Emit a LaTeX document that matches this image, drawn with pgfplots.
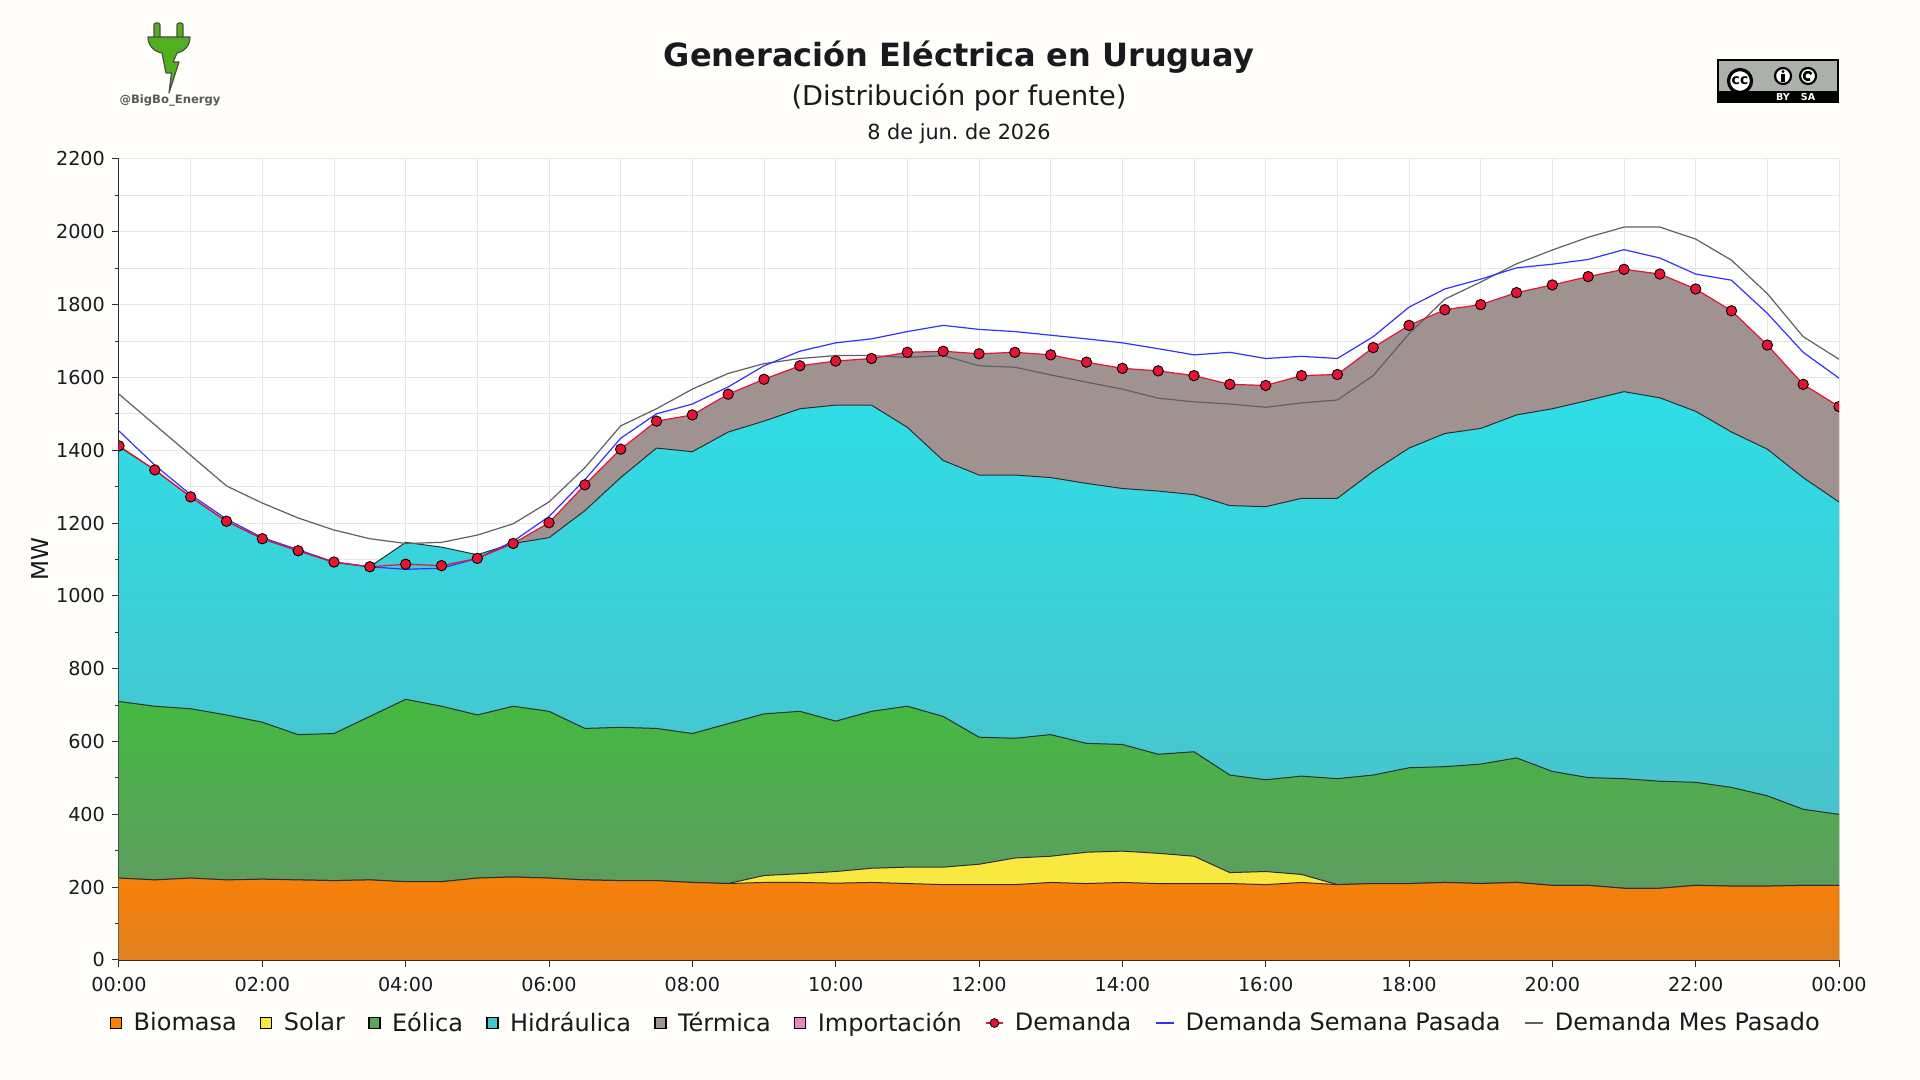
\documentclass[border=0pt]{standalone}
\usepackage{fontspec}
\setmainfont{DejaVu Sans}
\usepackage{pgfplots}
\pgfplotsset{compat=1.18}
\usepackage{pgfplotstable}
\frenchspacing

\definecolor{bg}{RGB}{255,254,250}
\definecolor{gridc}{RGB}{232,230,224}
\definecolor{txt}{RGB}{25,25,30}
\definecolor{termc}{RGB}{161,146,146}
\definecolor{hidtop}{RGB}{47,221,230}
\definecolor{hidbot}{RGB}{81,186,194}
\definecolor{eoltop}{RGB}{68,185,64}
\definecolor{eolbot}{RGB}{104,145,108}
\definecolor{solc}{RGB}{248,232,64}
\definecolor{biotop}{RGB}{248,128,8}
\definecolor{biobot}{RGB}{224,128,32}
\definecolor{impc}{RGB}{240,128,192}
\definecolor{demc}{RGB}{230,20,50}
\definecolor{semc}{RGB}{50,50,255}
\definecolor{mesc}{RGB}{95,95,105}
\definecolor{edge}{RGB}{45,45,50}
\definecolor{plugg}{RGB}{82,176,30}
\definecolor{ccgray}{RGB}{171,177,170}

\pgfplotstableread{
t bio bs eol hid dem sem mes
0.0 225 225 710 1410 1412 1453 1554
0.5 220 220 697 1346 1346 1359 1470
1.0 225 225 690 1272 1272 1278 1386
1.5 220 220 673 1205 1205 1211 1302
2.0 222 222 653 1157 1157 1160 1255
2.5 220 220 619 1124 1124 1127 1214
3.0 218 218 622 1092 1093 1093 1181
3.5 220 220 669 1080 1080 1080 1157
4.0 215 215 716 1147 1087 1073 1144
4.5 215 215 697 1134 1083 1076 1147
5.0 225 225 673 1113 1103 1103 1167
5.5 228 228 697 1144 1144 1150 1198
6.0 225 225 683 1160 1201 1218 1258
6.5 220 220 636 1234 1305 1319 1352
7.0 218 218 639 1325 1403 1433 1467
7.5 218 218 636 1406 1480 1500 1514
8.0 213 213 622 1396 1497 1527 1568
8.5 210 210 649 1450 1554 1574 1611
9.0 213 232 676 1480 1595 1632 1638
9.5 213 237 683 1514 1632 1672 1652
10.0 211 243 656 1524 1645 1695 1660
10.5 213 252 683 1524 1652 1706 1660
11.0 210 255 697 1463 1669 1726 1655
11.5 207 255 669 1372 1672 1743 1660
12.0 207 263 612 1332 1665 1732 1632
12.5 207 280 609 1332 1669 1726 1628
13.0 213 285 619 1325 1662 1716 1607
13.5 210 296 595 1309 1642 1706 1587
14.0 213 299 592 1295 1625 1695 1568
14.5 210 293 565 1288 1618 1679 1543
15.0 210 285 572 1278 1605 1662 1533
15.5 210 240 508 1248 1581 1669 1527
16.0 207 243 495 1245 1578 1652 1518
16.5 213 235 505 1268 1605 1658 1530
17.0 207 207 498 1268 1608 1652 1538
17.5 210 210 508 1342 1682 1712 1605
18.0 210 210 528 1406 1743 1793 1720
18.5 213 213 531 1446 1786 1843 1815
19.0 210 210 538 1460 1800 1870 1862
19.5 213 213 555 1497 1833 1901 1912
20.0 205 205 518 1514 1854 1911 1950
20.5 205 205 501 1537 1877 1924 1985
21.0 197 197 498 1561 1897 1951 2013
21.5 197 197 491 1544 1884 1928 2013
22.0 205 205 488 1507 1843 1884 1980
22.5 203 203 474 1450 1783 1867 1922
23.0 203 203 451 1403 1689 1776 1830
23.5 205 205 414 1325 1581 1669 1712
24.0 205 205 400 1258 1520 1598 1650
}\data

\begin{document}
\begin{tikzpicture}
\useasboundingbox (-59.5pt,-60pt) rectangle (900.5pt,480pt);
\fill[bg] (-59.5pt,-60pt) rectangle (900.5pt,480pt);
\begin{axis}[
  at={(0pt,0pt)}, anchor=south west,
  scale only axis, width=860pt, height=400.5pt,
  xmin=0, xmax=24, ymin=0, ymax=2200,
  axis x line*=bottom, axis y line*=left,
  x axis line style={line width=1pt, color=edge},
  y axis line style={line width=0.5pt, color=edge},
  axis background/.style={fill=white},
  xtick={0,2,...,24},
  xticklabels={00:00,02:00,04:00,06:00,08:00,10:00,12:00,14:00,16:00,18:00,20:00,22:00,00:00},
  minor x tick num=1,
  ytick={0,200,...,2200},
  minor y tick num=1,
  grid=both,
  major grid style={color=gridc, line width=0.5pt},
  minor grid style={color=gridc, line width=0.5pt},
  tick align=outside,
  major tick length=3.5pt, minor tick length=2pt,
  tick style={color=edge, line width=0.5pt},
  minor x tick style={draw=none},
  /pgf/number format/1000 sep={},
  /pgf/number format/assume math mode=true,
  scaled y ticks=false,
  tick label style={font=\fontsize{9.6}{11}\selectfont, color=txt},
  xticklabel style={yshift=-1.8pt},
  ylabel={MW},
  ylabel style={at={(axis description cs:-0.046,0.5)}, anchor=center, font=\fontsize{11.6}{13}\selectfont, color=txt},
  legend style={at={(0.493,-0.0787)}, anchor=center, draw=none, fill=none,
    font=\fontsize{12}{14}\selectfont, text=txt,
    /tikz/every odd column/.append style={column sep=3.7pt},
    /tikz/every even column/.append style={column sep=9.7pt},
    nodes={inner sep=2pt}},
  legend columns=-1,
  legend cell align=left,
  clip=true,
]
% legend entries (order as in reference)
\addlegendimage{legend image code/.code={\draw[fill=biotop,draw=black,line width=0.6pt] (0pt,-2.75pt) rectangle (5.5pt,2.75pt);}}
\addlegendentry{Biomasa}
\addlegendimage{legend image code/.code={\draw[fill=solc,draw=black,line width=0.6pt] (0pt,-2.75pt) rectangle (5.5pt,2.75pt);}}
\addlegendentry{Solar}
\addlegendimage{legend image code/.code={\draw[fill=eoltop!60!eolbot,draw=black,line width=0.6pt] (0pt,-2.75pt) rectangle (5.5pt,2.75pt);}}
\addlegendentry{Eólica}
\addlegendimage{legend image code/.code={\draw[fill=hidtop!40!hidbot,draw=black,line width=0.6pt] (0pt,-2.75pt) rectangle (5.5pt,2.75pt);}}
\addlegendentry{Hidráulica}
\addlegendimage{legend image code/.code={\draw[fill=termc,draw=black,line width=0.6pt] (0pt,-2.75pt) rectangle (5.5pt,2.75pt);}}
\addlegendentry{Térmica}
\addlegendimage{legend image code/.code={\draw[fill=impc,draw=black,line width=0.6pt] (0pt,-2.75pt) rectangle (5.5pt,2.75pt);}}
\addlegendentry{Importación}
\addlegendimage{legend image code/.code={\draw[demc,line width=0.6pt] (0pt,0pt) -- (8.5pt,0pt); \filldraw[fill=demc,draw=black,line width=0.4pt] (4.25pt,0pt) circle (2.2pt);}}
\addlegendentry{Demanda}
\addlegendimage{legend image code/.code={\draw[semc,line width=0.7pt] (0pt,0pt) -- (9pt,0pt);}}
\addlegendentry{Demanda Semana Pasada}
\addlegendimage{legend image code/.code={\draw[mesc,line width=0.7pt] (0pt,0pt) -- (9pt,0pt);}}
\addlegendentry{Demanda Mes Pasado}

% areas (painter order, cumulative tops)
\addplot[draw=none, fill=termc, forget plot] table[x=t,y=dem] {\data} \closedcycle;
\addplot[draw=none, top color=hidtop, bottom color=hidbot, forget plot] table[x=t,y=hid] {\data} \closedcycle;
\addplot[edge, line width=0.5pt, forget plot] table[x=t,y=hid] {\data};
\addplot[draw=none, top color=eoltop, bottom color=eolbot, forget plot] table[x=t,y=eol] {\data} \closedcycle;
\addplot[edge, line width=0.5pt, forget plot] table[x=t,y=eol] {\data};
\addplot[draw=none, fill=solc, forget plot] table[x=t,y=bs] {\data} \closedcycle;
\addplot[edge, line width=0.5pt, forget plot] table[x=t,y=bs] {\data};
\addplot[draw=none, top color=biotop, bottom color=biobot, forget plot] table[x=t,y=bio] {\data} \closedcycle;
\addplot[edge, line width=0.5pt, forget plot] table[x=t,y=bio] {\data};

% demand lines
\addplot[mesc, line width=0.6pt, forget plot] table[x=t,y=mes] {\data};
\addplot[semc, line width=0.6pt, forget plot] table[x=t,y=sem] {\data};
\addplot[demc, line width=0.6pt, mark=*, mark size=2.6pt,
  mark options={fill=demc, draw=black, line width=0.45pt}, forget plot, clip mode=individual] table[x=t,y=dem] {\data};
\end{axis}

% decorations in pixel coordinates of the 1920x1080 reference
\begin{scope}[x=0.5pt,y=-0.5pt,shift={(-59.5pt,480pt)}]
\node[font=\fontsize{16}{19}\selectfont\bfseries, text=txt] at (959,57.5) {Generación Eléctrica en Uruguay};
\node[font=\fontsize{13.6}{16}\selectfont, text=txt] at (959,97) {(Distribución por fuente)};
\node[font=\fontsize{10.4}{12}\selectfont, text=txt] at (959,133.5) {8 de jun. de 2026};
% plug logo
\filldraw[fill=plugg, draw=black!70, line width=0.6pt, rounded corners=1pt] (154,39) -- (154,23) -- (160,23) -- (160,39) -- cycle;
\filldraw[fill=plugg, draw=black!70, line width=0.6pt, rounded corners=1pt] (177,39) -- (177,23) -- (183,23) -- (183,39) -- cycle;
\filldraw[fill=plugg, draw=black!70, line width=0.6pt, line join=round] (148,37) -- (190,37) .. controls (190,46) and (184,52) .. (177,53) -- (173,62) -- (179,62) -- (169,93) -- (171.5,73) -- (166,73) -- (162,53) .. controls (155,52) and (148,46) .. (148,37) -- cycle;
\node[font=\fontsize{5.8}{7}\selectfont\bfseries, text=black!65] at (170,100) {@BigBo\_Energy};
% CC BY SA badge
\filldraw[fill=ccgray, draw=black, line width=0.8pt] (1718,60) rectangle (1838,102);
\fill[black] (1718,91) rectangle (1838,102);
\filldraw[fill=white, draw=black, line width=1.6pt] (1740,81) circle (11.5);
\node[font=\fontsize{7}{8}\selectfont\bfseries] at (1740,81) {cc};
\filldraw[fill=white, draw=black, line width=1.1pt] (1783,76) circle (8);
\fill[black] (1783,71.5) circle (1.6);
\fill[black] (1780.8,74) rectangle (1785.2,82);
\filldraw[fill=white, draw=black, line width=1.1pt] (1808,76) circle (8);
\draw[black, line width=1.3pt] (1808,76) ++(60:4) arc (60:330:4);
\node[font=\fontsize{4.8}{5}\selectfont\bfseries, text=white] at (1783,96.8) {BY};
\node[font=\fontsize{4.8}{5}\selectfont\bfseries, text=white] at (1808,96.8) {SA};
\end{scope}
\end{tikzpicture}
\end{document}
